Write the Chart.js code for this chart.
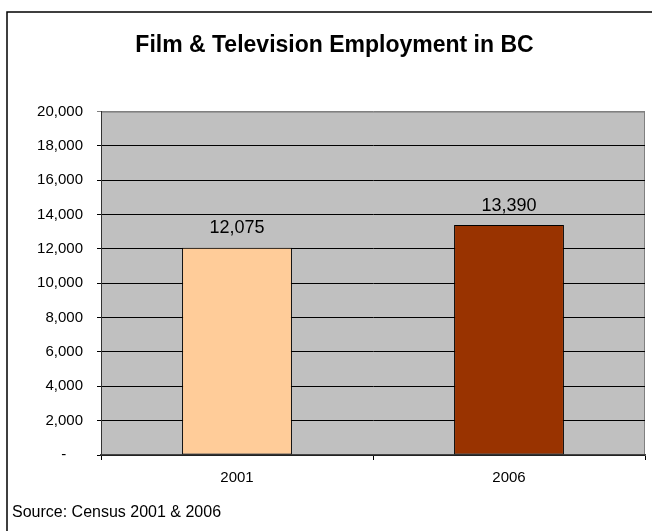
<!DOCTYPE html>
<html>
<head>
<meta charset="utf-8">
<script src="https://cdn.jsdelivr.net/npm/chart.js@4"></script>
<style>
  body { margin: 0; background: #fff; }
  #wrap { width: 652px; height: 531px; }
</style>
</head>
<body>
<div id="wrap"><canvas id="employmentChart" width="652" height="531"></canvas></div>
<script>
  var years = ["2001", "2006"];
  var employment = [12075, 13390];
  var barColors = ["#FFCC99", "#993300"];
  var chartTitle = "Film & Television Employment in BC";
  var sourceNote = "Source: Census 2001 & 2006";

  var font = "'Liberation Sans', Arial, sans-serif";

  function formatNumber(value) {
    return value.toLocaleString("en-US");
  }

  // frame, grey plot area, value labels and source line
  var decorations = {
    id: "decorations",
    beforeDraw: function (chart) {
      var ctx = chart.ctx;
      var area = chart.chartArea;
      ctx.save();
      ctx.strokeStyle = "#000";
      ctx.lineWidth = 1.5;
      ctx.strokeRect(7, 12, 700, 600);
      ctx.fillStyle = "#C0C0C0";
      ctx.fillRect(area.left, area.top, area.right - area.left, area.bottom - area.top);
      ctx.strokeStyle = "#808080";
      ctx.lineWidth = 1;
      ctx.strokeRect(area.left + 0.5, area.top + 0.5, area.right - area.left - 1, area.bottom - area.top);
      ctx.restore();
    },
    afterDatasetsDraw: function (chart) {
      var ctx = chart.ctx;
      var meta = chart.getDatasetMeta(0);
      ctx.save();
      ctx.fillStyle = "#000";
      ctx.font = "18px " + font;
      ctx.textAlign = "center";
      ctx.textBaseline = "alphabetic";
      meta.data.forEach(function (bar, i) {
        ctx.fillText(formatNumber(chart.data.datasets[0].data[i]), bar.x, bar.y - 14.5);
      });
      ctx.restore();
    },
    afterDraw: function (chart) {
      var ctx = chart.ctx;
      ctx.save();
      ctx.fillStyle = "#000";
      ctx.font = "16px " + font;
      ctx.textAlign = "left";
      ctx.textBaseline = "middle";
      ctx.fillText(sourceNote, 12, 513);
      ctx.restore();
    }
  };

  var ctx = document.getElementById("employmentChart").getContext("2d");
  new Chart(ctx, {
    type: "bar",
    data: {
      labels: years,
      datasets: [
        {
          data: employment,
          backgroundColor: barColors,
          borderColor: "#000",
          borderWidth: 1,
          borderSkipped: false,
          categoryPercentage: 1,
          barPercentage: 0.404
        }
      ]
    },
    options: {
      responsive: false,
      animation: false,
      layout: { padding: { left: 24, right: 7, top: 0, bottom: 0 } },
      plugins: {
        legend: { display: false },
        tooltip: { enabled: false },
        title: {
          display: true,
          text: chartTitle,
          color: "#000",
          font: { family: font, size: 23, weight: "bold" },
          padding: { top: 32, bottom: 52 }
        }
      },
      scales: {
        x: {
          afterFit: function (scale) { scale.height = 76; },
          grid: {
            offset: true,
            drawOnChartArea: false,
            drawTicks: true,
            tickLength: 5,
            color: "#000"
          },
          border: { color: "#444", width: 1.5 },
          ticks: {
            color: "#000",
            padding: 9,
            font: { family: font, size: 15 }
          }
        },
        y: {
          min: 0,
          max: 20000,
          afterFit: function (scale) { scale.width = 77; },
          grid: {
            color: function (c) { return c.tick && c.tick.value === 20000 ? "#808080" : "#000"; },
            tickLength: 4
          },
          border: { color: "#333", width: 1 },
          ticks: {
            stepSize: 2000,
            color: "#000",
            padding: 14,
            font: { family: font, size: 15 },
            callback: function (value) {
              return value === 0 ? "-    " : formatNumber(value);
            }
          }
        }
      }
    },
    plugins: [decorations]
  });
</script>
</body>
</html>
